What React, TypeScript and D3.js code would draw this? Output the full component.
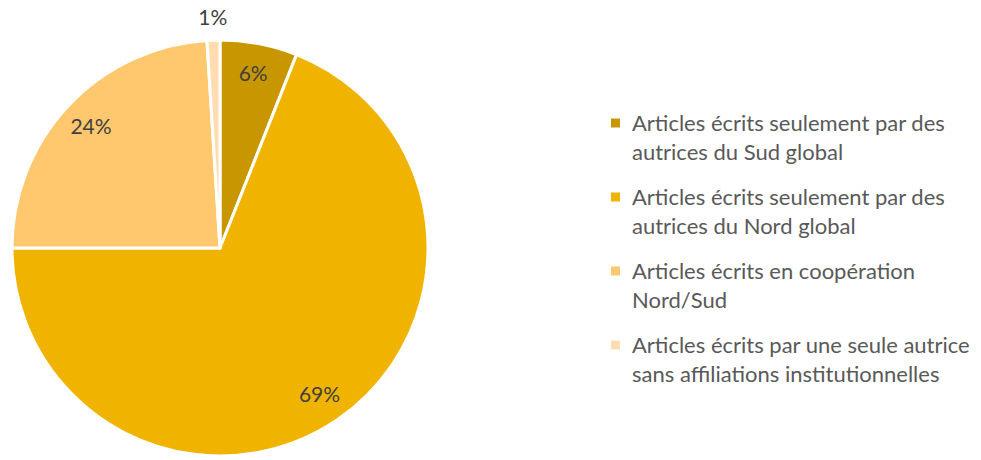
import React, { useRef, useEffect } from 'react';
import * as d3 from 'd3';

const categories = [
  ['Articles écrits seulement par des', 'autrices du Sud global'],
  ['Articles écrits seulement par des', 'autrices du Nord global'],
  ['Articles écrits en coopération', 'Nord/Sud'],
  ['Articles écrits par une seule autrice', 'sans affiliations institutionnelles'],
];
const values = [6, 69, 24, 1];
const colors = ['#C89700', '#F0B400', '#FFC86E', '#FFDDB0'];

const App = () => {
  const svgRef = useRef<SVGSVGElement>(null);

  useEffect(() => {
    const svg = d3.select(svgRef.current);
    svg.selectAll('*').remove();

    const cx = 220;
    const cy = 248;
    const r = 208;
    const font = 'Lato, "Open Sans", sans-serif';

    const pie = d3.pie<number>().sort(null).value(d => d);
    const arcs = pie(values);
    const arc = d3.arc<d3.PieArcDatum<number>>().innerRadius(0).outerRadius(r);
    const labelArc = d3.arc<d3.PieArcDatum<number>>().innerRadius(177).outerRadius(177);
    const outerLabelArc = d3.arc<d3.PieArcDatum<number>>().innerRadius(230).outerRadius(230);

    const g = svg.append('g').attr('transform', `translate(${cx},${cy})`);

    g.selectAll('path')
      .data(arcs)
      .enter()
      .append('path')
      .attr('d', arc)
      .attr('fill', (d, i) => colors[i])
      .attr('stroke', '#fff')
      .attr('stroke-width', 3)
      .attr('stroke-linejoin', 'round');

    g.selectAll('text.pct')
      .data(arcs)
      .enter()
      .append('text')
      .attr('class', 'pct')
      .attr('transform', d => `translate(${(d.data < 3 ? outerLabelArc : labelArc).centroid(d)})`)
      .attr('text-anchor', 'middle')
      .attr('dy', '0.35em')
      .attr('font-family', font)
      .attr('font-size', 21)
      .attr('fill', '#404040')
      .text(d => `${d.data}%`);

    // Legend
    const legend = svg.append('g').attr('transform', 'translate(611, 0)');
    const rowY = [123, 197, 271, 345];
    const item = legend.selectAll('g.item')
      .data(categories)
      .enter()
      .append('g')
      .attr('class', 'item')
      .attr('transform', (d, i) => `translate(0, ${rowY[i]})`);

    item.append('rect')
      .attr('x', 0)
      .attr('y', -4.5)
      .attr('width', 9)
      .attr('height', 9)
      .attr('fill', (d, i) => colors[i]);

    item.append('text')
      .attr('x', 21)
      .attr('y', 0)
      .attr('font-family', font)
      .attr('font-size', 22)
      .attr('fill', '#595959')
      .selectAll('tspan')
      .data(d => d)
      .enter()
      .append('tspan')
      .attr('x', 21)
      .attr('dy', (d, i) => (i === 0 ? '0.35em' : 29))
      .text(d => d);
  }, []);

  return (
    <svg ref={svgRef} width={981} height={460} style={{ position: 'absolute', left: 0, top: 0, background: '#fff' }} />
  );
};

export default App;
